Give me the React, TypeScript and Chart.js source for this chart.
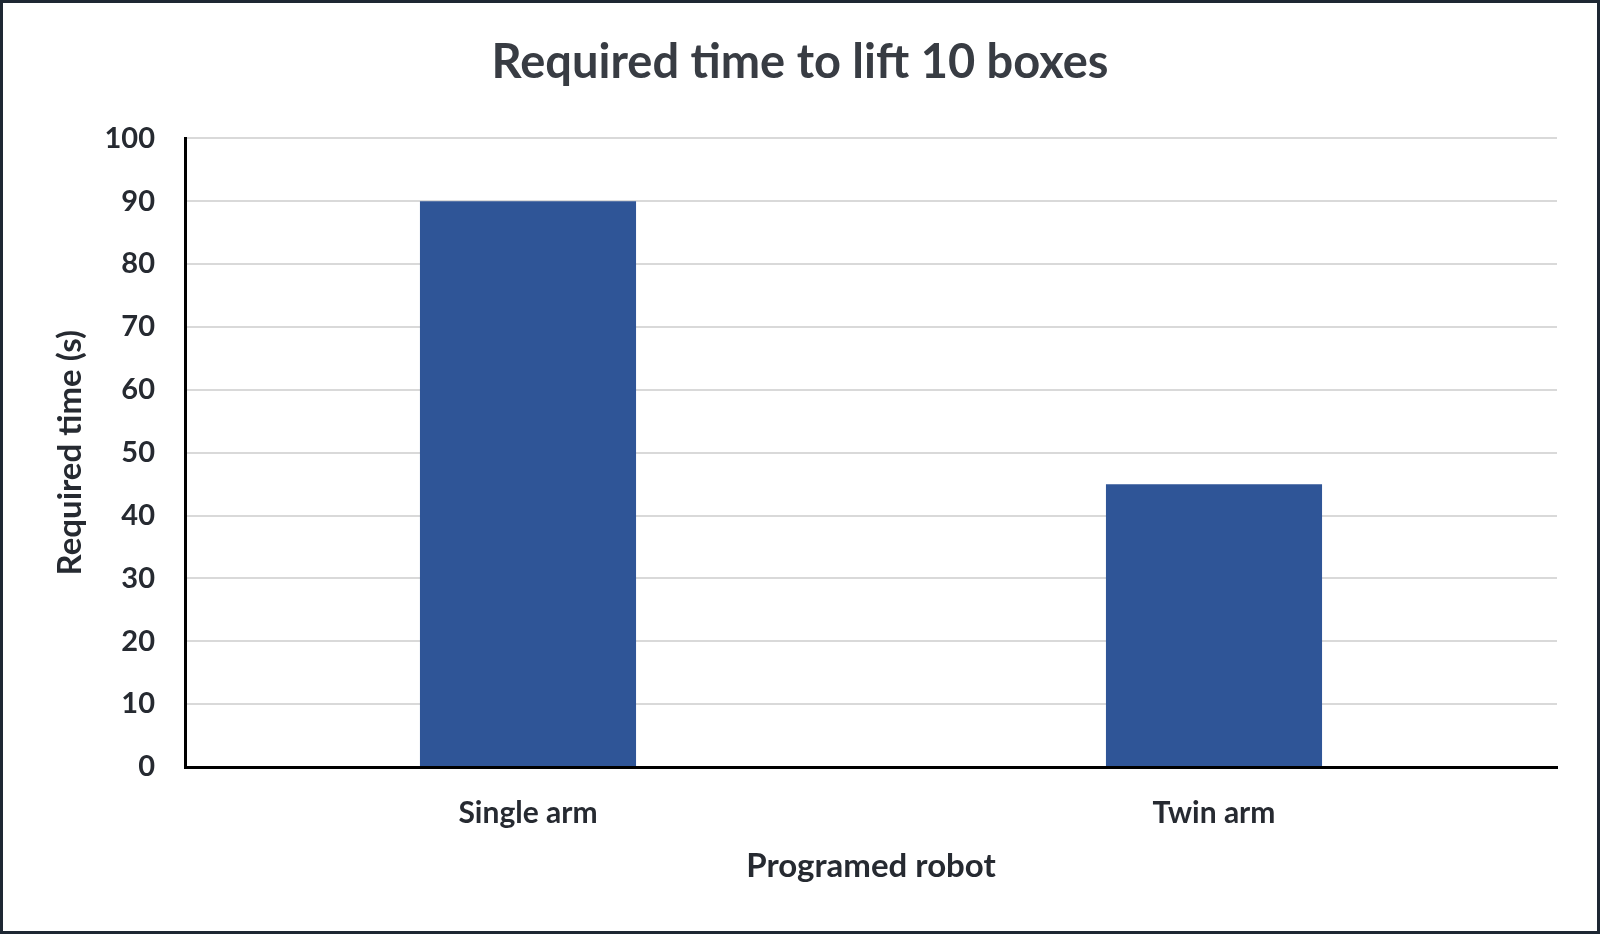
import React, { useEffect, useRef } from "react";
import { Chart, registerables } from "chart.js";

Chart.register(...registerables);

const robotTypes = ["Single arm", "Twin arm"];
const requiredTimes = [90, 45];
const yTicks = [0, 10, 20, 30, 40, 50, 60, 70, 80, 90, 100];

const textColor = "#262a31";
const barColor = "#2f5597";

const App: React.FC = () => {
  const chartRef = useRef<HTMLCanvasElement | null>(null);

  useEffect(() => {
    document.body.style.margin = "0";
    if (!chartRef.current) return;
    const ctx = chartRef.current.getContext("2d");
    if (!ctx) return;

    const chart = new Chart(ctx, {
      type: "bar",
      data: {
        labels: robotTypes,
        datasets: [
          {
            data: requiredTimes,
            backgroundColor: barColor,
            barPercentage: 0.63,
            categoryPercentage: 0.5,
          },
        ],
      },
      options: {
        animation: false,
        responsive: true,
        maintainAspectRatio: false,
        // equal side padding keeps the title centred on the whole canvas
        layout: { padding: { left: 40, right: 40, top: 0, bottom: 0 } },
        plugins: {
          legend: { display: false },
          tooltip: { enabled: false },
          title: {
            display: true,
            text: "Required time to lift 10 boxes",
            color: "#383c43",
            font: { family: "Lato", size: 47, weight: "bold" },
            padding: { top: 32, bottom: 47 },
          },
        },
        scales: {
          x: {
            grid: { display: false, drawTicks: false },
            border: { display: true, color: "#000000", width: 3 },
            ticks: {
              color: textColor,
              font: { family: "Lato", size: 30, weight: "bold" },
              padding: 28,
            },
            title: {
              display: true,
              text: "Programed robot",
              color: textColor,
              font: { family: "Lato", size: 33, weight: "bold" },
              padding: { top: 0, bottom: 45 },
            },
            afterFit: (scale: any) => {
              scale.height = 164;
            },
          },
          y: {
            min: 0,
            max: 100,
            afterBuildTicks: (scale: any) => {
              scale.ticks = yTicks.map((v) => ({ value: v }));
            },
            grid: { color: "#d9d9d9", lineWidth: 2, drawTicks: false },
            border: { display: true, color: "#000000", width: 3 },
            ticks: {
              color: textColor,
              font: { family: "Lato", size: 29, weight: "bold" },
              padding: 30,
            },
            title: {
              display: true,
              text: "Required time (s)",
              color: textColor,
              font: { family: "Lato", size: 33, weight: "bold" },
              padding: { top: 8, bottom: 0 },
            },
            afterFit: (scale: any) => {
              scale.width = 142;
            },
          },
        },
      },
    });

    return () => {
      chart.destroy();
    };
  }, []);

  return (
    <div
      style={{
        position: "fixed",
        left: 0,
        top: 0,
        width: 1600,
        height: 934,
        boxSizing: "border-box",
        border: "3px solid #1e2833",
        background: "#ffffff",
      }}
    >
      <canvas ref={chartRef}></canvas>
    </div>
  );
};

export default App;
